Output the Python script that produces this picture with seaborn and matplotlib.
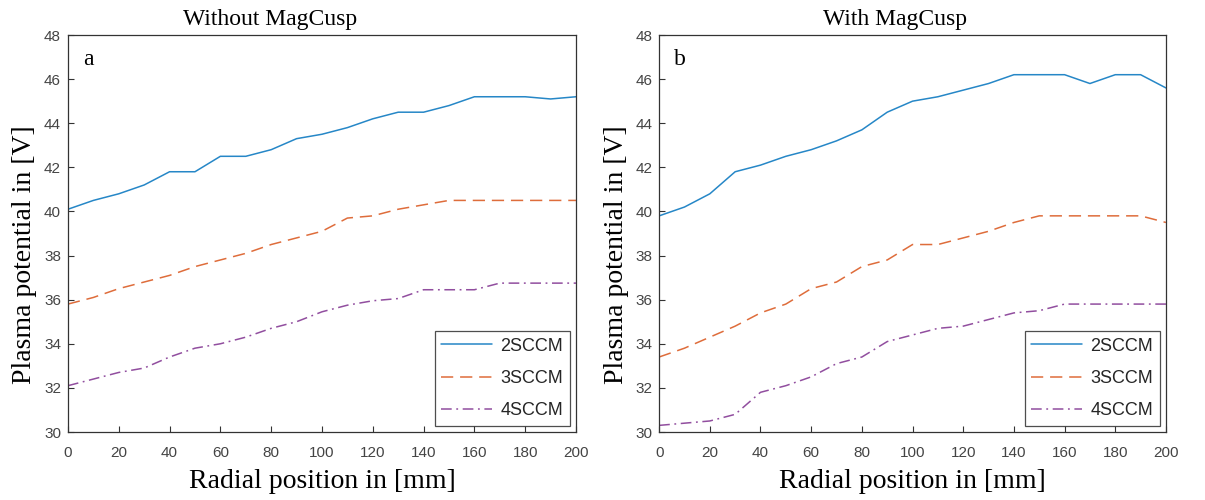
import numpy as np
import pandas as pd
import seaborn as sns
import matplotlib
matplotlib.use("Agg")
import matplotlib.pyplot as plt

radial = [0, 10, 20, 30, 40, 50, 60, 70, 80, 90, 100, 110, 120, 130, 140, 150, 160, 170, 180, 190, 200]

# Without MagCusp
a_2sccm = [40.1, 40.5, 40.8, 41.2, 41.8, 41.8, 42.5, 42.5, 42.8, 43.3, 43.5, 43.8, 44.2, 44.5, 44.5, 44.8, 45.2, 45.2, 45.2, 45.1, 45.2]
a_3sccm = [35.8, 36.1, 36.5, 36.8, 37.1, 37.5, 37.8, 38.1, 38.5, 38.8, 39.1, 39.7, 39.8, 40.1, 40.3, 40.5, 40.5, 40.5, 40.5, 40.5, 40.5]
a_4sccm = [32.1, 32.4, 32.7, 32.9, 33.4, 33.8, 34.0, 34.3, 34.7, 35.0, 35.45, 35.75, 35.95, 36.05, 36.45, 36.45, 36.45, 36.75, 36.75, 36.75, 36.75]

# With MagCusp
b_2sccm = [39.8, 40.2, 40.8, 41.8, 42.1, 42.5, 42.8, 43.2, 43.7, 44.5, 45.0, 45.2, 45.5, 45.8, 46.2, 46.2, 46.2, 45.8, 46.2, 46.2, 45.6]
b_3sccm = [33.4, 33.8, 34.3, 34.8, 35.4, 35.8, 36.5, 36.8, 37.5, 37.8, 38.5, 38.5, 38.8, 39.1, 39.5, 39.8, 39.8, 39.8, 39.8, 39.8, 39.5]
b_4sccm = [30.3, 30.4, 30.5, 30.8, 31.8, 32.1, 32.5, 33.1, 33.4, 34.1, 34.4, 34.7, 34.8, 35.1, 35.4, 35.5, 35.8, 35.8, 35.8, 35.8, 35.8]

series_names = ["2SCCM", "3SCCM", "4SCCM"]
titles = ["Without MagCusp", "With MagCusp"]
panel_letters = ["a", "b"]
x_ticks = [0, 20, 40, 60, 80, 100, 120, 140, 160, 180, 200]
y_ticks = [30, 32, 34, 36, 38, 40, 42, 44, 46, 48]

colors = {"2SCCM": "#0072BD", "3SCCM": "#D95319", "4SCCM": "#7E2F8E"}
dashes = {"2SCCM": "", "3SCCM": (8, 4.5), "4SCCM": (7, 3, 1.2, 3)}

def long_df(vals):
    rows = []
    for name, v in zip(series_names, vals):
        for x, y in zip(radial, v):
            rows.append({"Radial": x, "Potential": y, "Series": name})
    return pd.DataFrame(rows)

dfs = [long_df([a_2sccm, a_3sccm, a_4sccm]), long_df([b_2sccm, b_3sccm, b_4sccm])]

sns.set_theme(style="white")
plt.rcParams["font.family"] = ["Liberation Sans", "DejaVu Sans"]

fig = plt.figure(figsize=(12.05, 5.0), dpi=100)
positions = [[0.0564, 0.136, 0.4216, 0.794], [0.547, 0.136, 0.4206, 0.794]]
title_x = [0.398, 0.465]

serif = ["Liberation Serif", "DejaVu Serif"]
for i, df in enumerate(dfs):
    ax = fig.add_axes(positions[i])
    sns.lineplot(data=df, x="Radial", y="Potential", hue="Series", style="Series",
                 palette=colors, dashes=dashes, linewidth=1.1, ax=ax, alpha=0.85)
    ax.set_xlim(0, 200)
    ax.set_ylim(30, 48)
    ax.set_xticks(x_ticks)
    ax.set_yticks(y_ticks)
    ax.tick_params(axis="both", direction="in", length=4, width=0.8, color="#333333",
                   labelsize=11, labelcolor="#444444",
                   bottom=True, left=True, top=False, right=False)
    ax.tick_params(axis="y", pad=5)
    ax.tick_params(axis="x", pad=10)
    for s in ax.spines.values():
        s.set_color("#333333")
        s.set_linewidth(0.9)
    ax.set_xlabel("Radial position in [mm]", fontsize=20, family=serif, color="black", va="top")
    ax.xaxis.set_label_coords(0.5, -0.093)
    ax.set_ylabel("Plasma potential in [V]", fontsize=20, family=serif, color="black")
    ax.yaxis.set_label_coords(-0.06, 0.446)
    ax.set_title(titles[i], fontsize=17, family=serif, pad=7, color="black", x=title_x[i])
    ax.text(0.03, 0.965, panel_letters[i], transform=ax.transAxes, fontsize=17,
            family=serif, va="top", ha="left", color="black")
    leg = ax.legend(loc="lower right", fontsize=13, handlelength=2.8, frameon=True,
                    fancybox=False, edgecolor="#222222", borderpad=0.35,
                    labelspacing=0.85, handletextpad=0.5, borderaxespad=0.35)
    leg.get_frame().set_linewidth(0.9)
    leg.set_title(None)

fig.savefig("out.png", dpi=100)
